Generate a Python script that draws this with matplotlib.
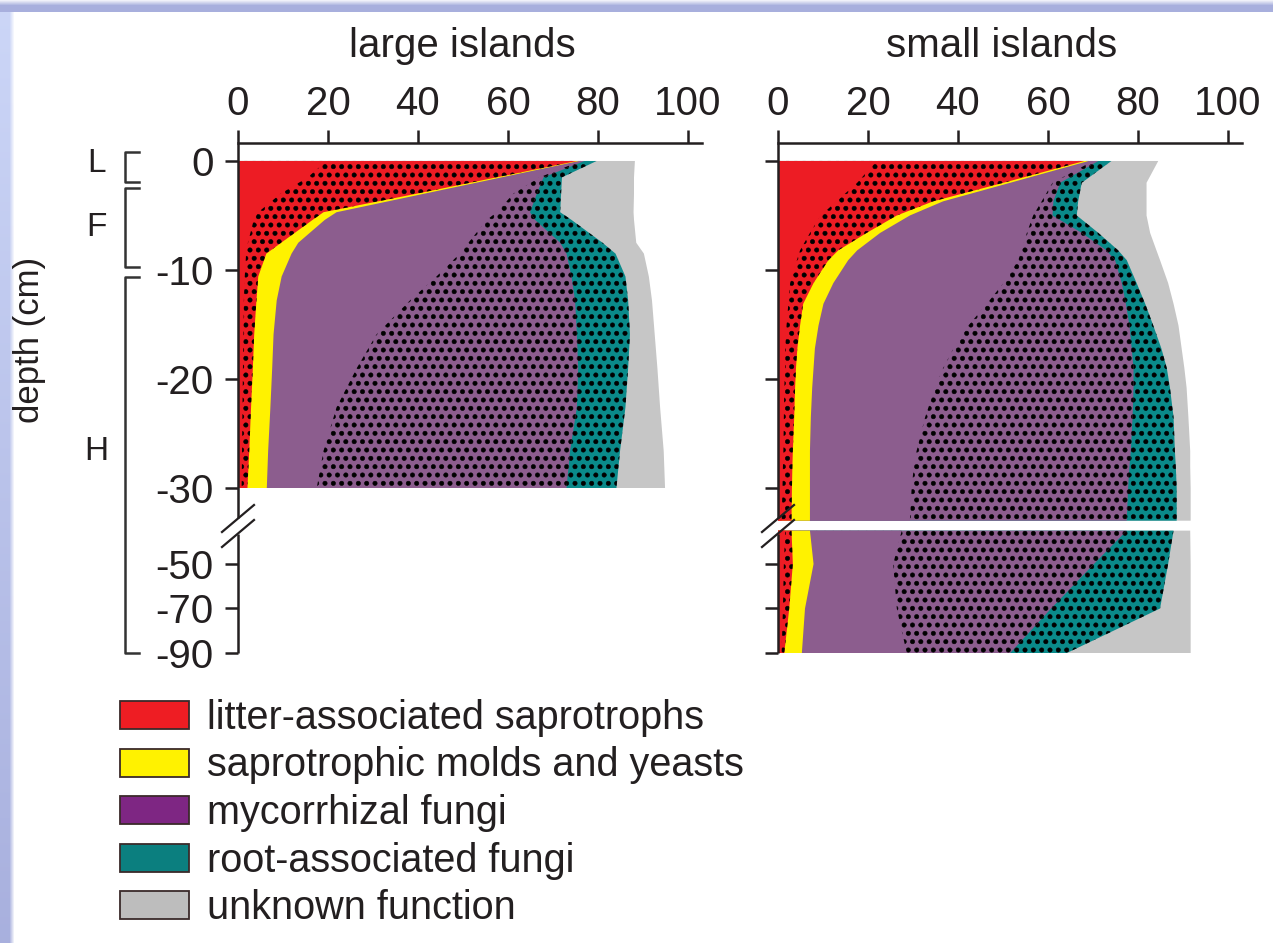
import numpy as np
import matplotlib
matplotlib.use('Agg')
import matplotlib.pyplot as plt
import matplotlib.hatch as mhatch
from matplotlib.patches import Patch
from matplotlib.lines import Line2D
from matplotlib.ticker import NullLocator

plt.rcParams['font.family'] = ['Liberation Sans', 'DejaVu Sans']
plt.rcParams['hatch.linewidth'] = 0.4
plt.rcParams['hatch.color'] = 'black'
# bigger stipple dots than the stock '.' hatch
mhatch.SmallFilledCircles.size = 0.26

# cumulative right edge (%) of each band, read at each depth (cm)
# a = plain part, b = stippled part of the same group
large_depth   = [0, -1.5, -3, -4.7, -5.4, -7.5, -8.5, -10.6, -12.8, -15.9, -19, -22.6, -26.6, -30]
large_litter_a = [19.7, 15.5, 9.5, 4.5, 3.5, 2.2, 1.8, 1.5, 1.3, 1.2, 1.1, 1.0, 0.9, 0.8]
large_litter_b = [75.3, 57.5, 39.7, 19.0, 16.6, 9.6, 6.3, 4.5, 4.1, 3.6, 3.3, 2.9, 2.5, 2.1]
large_molds    = [75.8, 58.6, 41.4, 21.9, 19.3, 13.4, 11.9, 9.7, 8.6, 7.9, 7.6, 7.2, 6.7, 6.4]
large_myco_a   = [76.2, 67.0, 61.2, 57.5, 55.3, 51.2, 49.3, 44.1, 38.2, 30.8, 26.4, 21.9, 19.0, 17.5]
large_myco_b   = [77.0, 67.9, 66.4, 64.9, 66.0, 71.6, 73.0, 74.1, 74.9, 75.3, 75.6, 75.3, 73.8, 73.0]
large_root     = [79.7, 72.0, 71.8, 71.6, 74.1, 81.0, 83.9, 86.1, 86.7, 87.1, 86.7, 86.1, 84.9, 84.1]
large_unknown  = [88.2, 88.0, 88.0, 87.9, 88.0, 88.5, 90.2, 91.3, 92.0, 92.6, 93.2, 93.8, 94.6, 94.9]

small_depth    = [0, -2, -3.7, -5, -6.6, -8.2, -9.1, -11.2, -13.1, -15.1, -17.2, -19, -20.8, -23.5, -26.6, -28, -30, -33]
small_litter_a = [21.9, 17.6, 13.0, 9.5, 7.1, 4.9, 4.2, 2.7, 2.3, 1.9, 1.6, 1.6, 1.4, 1.3, 1.2, 1.1, 1.0, 0.8]
small_litter_b = [68.1, 50.1, 34.5, 26.4, 19.7, 13.4, 11.2, 7.9, 5.6, 4.9, 4.3, 4.0, 3.8, 3.6, 3.3, 3.2, 3.1, 3.0]
small_molds    = [69.0, 51.6, 36.7, 29.3, 22.7, 17.6, 15.6, 12.3, 10.1, 9.0, 8.2, 7.9, 7.6, 7.3, 7.1, 7.1, 7.1, 7.1]
small_myco_a   = [70.0, 61.0, 58.6, 56.7, 55.3, 54.1, 53.4, 50.1, 46.4, 42.3, 39.0, 36.7, 34.9, 32.7, 30.8, 30.2, 29.7, 29.3]
small_myco_b   = [71.2, 62.7, 61.2, 61.0, 67.5, 73.0, 74.9, 76.4, 77.3, 78.1, 78.6, 79.0, 79.0, 78.8, 78.4, 78.1, 77.8, 77.5]
small_root     = [74.1, 67.5, 66.7, 66.4, 71.2, 75.6, 77.5, 79.7, 81.6, 83.4, 85.2, 86.4, 87.1, 87.9, 88.2, 88.4, 88.6, 88.6]
small_unknown  = [84.5, 81.9, 81.9, 81.9, 82.7, 84.1, 84.9, 86.7, 87.9, 89.0, 89.7, 90.3, 90.8, 91.2, 91.6, 91.6, 91.7, 91.7]

deep_depth    = [-35, -50, -70, -90]
deep_litter_a = [1.6, 1.3, 1.1, 0.8]
deep_litter_b = [3.0, 3.3, 2.5, 1.4]
deep_molds    = [7.1, 7.9, 6.0, 5.3]
deep_myco_a   = [27.5, 25.6, 26.4, 28.6]
deep_myco_b   = [77.5, 70.2, 60.7, 51.6]
deep_root     = [87.9, 86.7, 84.9, 64.2]
deep_unknown  = [91.6, 91.7, 91.7, 91.7]

x_ticks = [0, 20, 40, 60, 80, 100]
y_ticks = [0, -10, -20, -30, -50, -70, -90]
titles = ['large islands', 'small islands']
legend_labels = ['litter-associated saprotrophs', 'saprotrophic molds and yeasts',
                 'mycorrhizal fungi', 'root-associated fungi', 'unknown function']

RED, YEL, PUR, TEAL, GRAY = '#ED1C24', '#FFF200', '#8C5D8E', '#0A8A8A', '#C6C6C6'
LEG_COLS = ['#EE1D23', '#FFF200', '#7E2683', '#0B7F7F', '#BDBDBD']
INK = '#231F20'

W, H = 1273, 943
def fx(px): return px / W
def fy(py): return 1 - py / H

# broken depth axis: 0..-33 stretched, below -33 compressed
def depth_fwd(d):
    d = np.asarray(d, dtype=float)
    return np.where(d >= -33, d * 10.9, -403 + (d + 50) * 2.225)

def depth_inv(p):
    p = np.asarray(p, dtype=float)
    return np.where(p >= -359.7, p / 10.9,
                    np.where(p <= -365.2, (p + 403) / 2.225 - 50, -33.0))

def draw_stack(ax, d, edges):
    la, lb, mo, ma, mb, ro, un = edges
    ax.fill_betweenx(d, 0, un, facecolor=GRAY, linewidth=0)
    ax.fill_betweenx(d, 0, ro, facecolor=TEAL, edgecolor='black', linewidth=0, hatch='..')
    ax.fill_betweenx(d, 0, mb, facecolor=PUR, edgecolor='black', linewidth=0, hatch='..')
    ax.fill_betweenx(d, 0, ma, facecolor=PUR, linewidth=0)
    ax.fill_betweenx(d, 0, mo, facecolor=YEL, linewidth=0)
    ax.fill_betweenx(d, 0, lb, facecolor=RED, edgecolor='black', linewidth=0, hatch='..')
    ax.fill_betweenx(d, 0, la, facecolor=RED, linewidth=0)

fig = plt.figure(figsize=(W / 100, H / 100), dpi=100)
fig.patch.set_facecolor('white')

# bluish frame of the slide
strip = np.ones((H, 14, 3))
top_c = np.array([0.66, 0.69, 0.87])
bot_c = np.array([0.80, 0.84, 0.97])
for i in range(H):
    c = top_c + (bot_c - top_c) * i / H
    for j in range(14):
        a = 1.0 if j < 10 else (14 - j) / 5.0
        strip[H - 1 - i, j] = c * a + (1 - a)
fig.figimage(strip, xo=0, yo=0, zorder=0)
top = np.ones((12, W, 3))
for i in range(12):
    a = 1.0 if i < 7 else (12 - i) / 6.0
    top[11 - i, :] = top_c * a + (1 - a)
fig.figimage(top, xo=0, yo=H - 12, zorder=0)

ax_w = 103 * 4.5
axes = []
for k, left in enumerate([238, 778]):
    ax = fig.add_axes([fx(left), fy(653), ax_w / W, (653 - 143) / H])
    ax.set_facecolor('none')
    ax.set_yscale('function', functions=(depth_fwd, depth_inv))
    ax.set_xlim(0, 103)
    ax.set_ylim(-90, 1.65)
    ax.set_xticks(x_ticks)
    ax.set_yticks(y_ticks)
    ax.set_yticklabels([str(t) for t in y_ticks] if k == 0 else [])
    ax.yaxis.set_minor_locator(NullLocator())
    ax.xaxis.tick_top()
    ax.tick_params(axis='x', direction='out', length=9.5, width=1.8, pad=5,
                   labelsize=29, colors=INK)
    ax.tick_params(axis='y', direction='out', length=9.5, width=1.8, pad=8,
                   labelsize=29, colors=INK)
    for s in ['right', 'bottom', 'left']:
        ax.spines[s].set_visible(False)
    ax.spines['top'].set_linewidth(1.8)
    ax.spines['top'].set_color(INK)
    fig.text(fx(left + 224), fy(46), titles[k], ha='center', va='center',
             fontsize=29, color=INK)
    # left spine with break marks
    for y0, y1 in [(143, 518), (534, 653)]:
        fig.add_artist(Line2D([fx(left), fx(left)], [fy(y0), fy(y1)],
                              color=INK, lw=1.8, solid_capstyle='butt'))
    for dy in [0, 15]:
        fig.add_artist(Line2D([fx(left - 16), fx(left + 16)],
                              [fy(532 + dy), fy(505 + dy)], color=INK, lw=1.6))
    axes.append(ax)

axL, axR = axes
draw_stack(axL, large_depth, [large_litter_a, large_litter_b, large_molds, large_myco_a,
                              large_myco_b, large_root, large_unknown])
draw_stack(axR, small_depth, [small_litter_a, small_litter_b, small_molds, small_myco_a,
                              small_myco_b, small_root, small_unknown])
draw_stack(axR, deep_depth, [deep_litter_a, deep_litter_b, deep_molds, deep_myco_a,
                             deep_myco_b, deep_root, deep_unknown])

# soil horizon brackets
for y0, y1, lab, ly in [(152, 182, 'L', 163), (188, 267, 'F', 228), (277, 653, 'H', 452)]:
    fig.add_artist(Line2D([fx(139), fx(125), fx(125), fx(139)],
                          [fy(y0), fy(y0), fy(y1), fy(y1)], color='#333333', lw=1.8))
    fig.text(fx(96), fy(ly), lab, ha='center', va='center', fontsize=24, color=INK)

fig.text(fx(30), fy(340), 'depth (cm)', rotation=90, ha='center', va='center',
         fontsize=25, color=INK)

handles = [Patch(facecolor=c, edgecolor='#3a2a2a', linewidth=1.3) for c in LEG_COLS]
fig.legend(handles, legend_labels, loc='upper left', bbox_to_anchor=(fx(120), fy(699)),
           frameon=False, fontsize=28.5, handlelength=1.75, handleheight=0.72,
           handletextpad=0.45, labelspacing=0.24, borderpad=0, borderaxespad=0,
           labelcolor=INK)

fig.savefig('out.png', dpi=100)
